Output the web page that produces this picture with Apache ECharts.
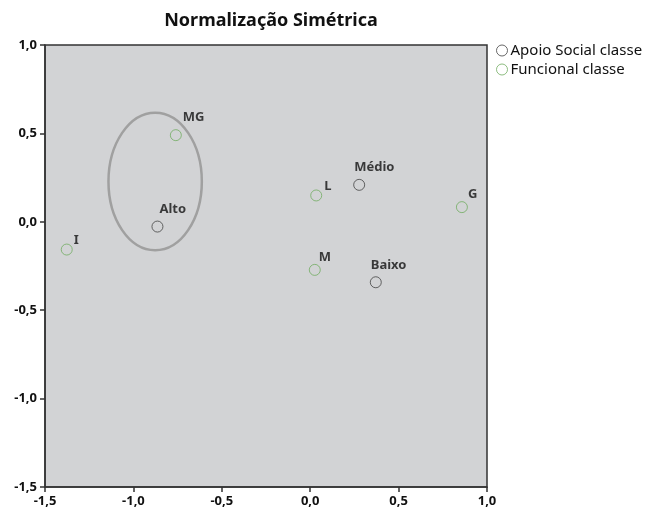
<!DOCTYPE html>
<html>
<head>
  <meta charset="utf-8">
  <title>Normalização Simétrica</title>
  <script src="https://cdn.jsdelivr.net/npm/echarts@6/dist/echarts.min.js"></script>
</head>
<body style="margin:0">
  <div id="main" style="width:651px;height:517px;"></div>
  <script type="text/javascript">
    // dados
    var apoioNames = ['Alto', 'Médio', 'Baixo'];
    var apoioX = [-0.864, 0.277, 0.371];
    var apoioY = [-0.027, 0.209, -0.342];

    var funcNames = ['MG', 'L', 'G', 'M', 'I'];
    var funcX = [-0.760, 0.034, 0.858, 0.026, -1.377];
    var funcY = [0.490, 0.149, 0.083, -0.272, -0.157];

    // elipse destacando Alto / MG: centro e raios
    var ellipse = [-0.877, 0.228, 0.264, 0.389];

    var axisTicks = [-1.5, -1.0, -0.5, 0.0, 0.5, 1.0];

    // deslocamento dos rótulos (px)
    var nudge = {
      'Alto': [2, -17], 'Médio': [-5, -18], 'Baixo': [-5, -17],
      'MG': [7, -18], 'L': [8, -9], 'G': [6, -13], 'M': [4, -13], 'I': [7, -9]
    };

    function pts(names, xs, ys) {
      return names.map(function (n, i) {
        return {
          name: n,
          value: [xs[i], ys[i]],
          label: { offset: nudge[n] }
        };
      });
    }

    function fmt(v) {
      return v.toFixed(1).replace('.', ',');
    }

    var font = '"Noto Sans", sans-serif';
    var grey = '#444';
    var green = '#72ad62';

    var axisCommon = {
      type: 'value',
      min: axisTicks[0],
      max: axisTicks[axisTicks.length - 1],
      interval: 0.5,
      splitLine: { show: false },
      axisLine: { show: true, onZero: false, lineStyle: { color: '#333', width: 1.5 } },
      axisTick: { show: true, length: 5, lineStyle: { color: '#333', width: 1.5 } },
      axisLabel: { formatter: fmt, color: '#111', fontWeight: 'bold', fontSize: 13, fontFamily: font }
    };

    var pointLabel = {
      show: true,
      position: 'inside',
      align: 'left',
      formatter: '{b}',
      color: '#111',
      fontWeight: 'bold',
      fontSize: 13,
      fontFamily: font
    };

    var myChart = echarts.init(document.getElementById('main'), null, { renderer: 'canvas' });
    var option = {
      backgroundColor: '#fff',
      animation: false,
      title: {
        text: 'Normalização Simétrica',
        left: 266,
        textAlign: 'center',
        top: 7,
        textStyle: { fontFamily: font, fontWeight: 'bold', fontSize: 18, color: '#111' }
      },
      legend: {
        orient: 'vertical',
        left: 491,
        top: 38,
        itemGap: 4,
        itemWidth: 11,
        itemHeight: 11,
        icon: 'circle',
        textStyle: { fontFamily: font, fontSize: 15, color: '#111', padding: [0, 0, 0, -2] },
        data: [
          { name: 'Apoio Social classe', itemStyle: { color: 'transparent', borderColor: grey, borderWidth: 1 } },
          { name: 'Funcional classe', itemStyle: { color: 'transparent', borderColor: green, borderWidth: 1 } }
        ]
      },
      grid: {
        left: 45, right: 164, top: 45, bottom: 30,
        show: true,
        backgroundColor: '#d2d3d5',
        borderColor: '#333',
        borderWidth: 1.5
      },
      xAxis: axisCommon,
      yAxis: axisCommon,
      series: [
        {
          type: 'custom',
          silent: true,
          z: 1,
          renderItem: function (params, api) {
            var c = api.coord([api.value(0), api.value(1)]);
            var s = api.size([api.value(2), api.value(3)]);
            return {
              type: 'ellipse',
              shape: { cx: c[0], cy: c[1], rx: s[0], ry: s[1] },
              style: { fill: 'none', stroke: '#a0a0a0', lineWidth: 2.5 }
            };
          },
          data: [ellipse]
        },
        {
          name: 'Apoio Social classe',
          type: 'scatter',
          symbol: 'circle',
          symbolSize: 11,
          itemStyle: { color: 'transparent', borderColor: grey, borderWidth: 1 },
          label: pointLabel,
          z: 3,
          data: pts(apoioNames, apoioX, apoioY)
        },
        {
          name: 'Funcional classe',
          type: 'scatter',
          symbol: 'circle',
          symbolSize: 11,
          itemStyle: { color: 'transparent', borderColor: green, borderWidth: 1 },
          label: pointLabel,
          z: 3,
          data: pts(funcNames, funcX, funcY)
        }
      ]
    };
    myChart.setOption(option);
  </script>
</body>
</html>
